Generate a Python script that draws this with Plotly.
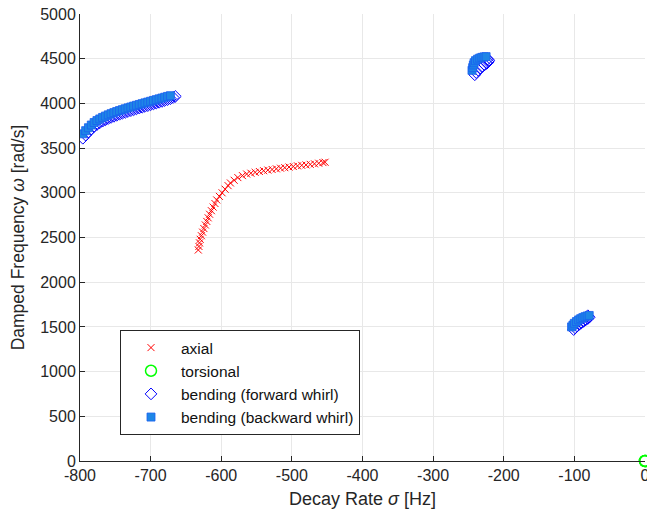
import plotly.graph_objects as go

# ---- data ----
axial_sigma = [-632.5, -631.6, -630.8, -629.8, -628.1, -626.4, -624.6, -622.5, -620.5, -618.5,
               -616.5, -614.0, -611.5, -608.9, -606.4, -602.6, -598.8, -594.5, -590.3, -587.0,
               -581.7, -576.5, -570.0, -564.0, -558.0, -552.0, -546.0, -540.0, -534.0, -528.0,
               -522.0, -516.0, -510.0, -504.0, -498.0, -492.0, -486.0, -480.0, -474.0, -468.0,
               -462.0, -456.0, -453.0]
axial_omega = [2360, 2400, 2440, 2480, 2520, 2560, 2600, 2640, 2680, 2720,
               2760, 2800, 2840, 2880, 2920, 2960, 3000, 3040, 3080, 3110,
               3140, 3170, 3192, 3210, 3219, 3229, 3238, 3247, 3254, 3261,
               3268, 3275, 3281, 3288, 3294, 3301, 3307, 3312, 3318, 3324,
               3331, 3338, 3342]

torsional_sigma = [0.0, 0.0, 0.0]
torsional_omega = [0, 0, 0]

forward_sigma = [-796, -792, -788, -784, -780, -776, -772, -768, -764, -760,
                 -756, -752, -748, -744, -740, -736, -732, -728, -724, -720,
                 -716, -712, -708, -704, -700, -696, -692, -688, -684, -680,
                 -676, -672, -668, -665,
                 -241, -239, -236, -233, -230, -227, -224, -222, -221, -223,
                 -101, -99, -96, -93, -90, -87, -84, -81, -79, -81]
forward_omega = [3610, 3645, 3680, 3712, 3742, 3764, 3783, 3801, 3816, 3830,
                 3843, 3855, 3867, 3878, 3889, 3899, 3909, 3919, 3929, 3939,
                 3948, 3957, 3966, 3975, 3985, 3994, 4003, 4012, 4022, 4032,
                 4042, 4053, 4066, 4078,
                 4320, 4345, 4370, 4395, 4415, 4432, 4448, 4465, 4482, 4495,
                 1470, 1490, 1510, 1528, 1545, 1562, 1578, 1594, 1608, 1625]

backward_sigma = [-796, -792, -788, -784, -780, -776, -772, -768, -764, -760,
                  -756, -752, -748, -744, -740, -736, -732, -728, -724, -720,
                  -716, -712, -708, -704, -700, -696, -692, -688, -684, -680,
                  -676, -672,
                  -245, -244, -243, -242, -240, -237, -234, -231, -228, -225,
                  -104, -102, -100, -97, -94, -91, -88, -85, -82, -79]
backward_omega = [3660, 3695, 3728, 3758, 3786, 3808, 3826, 3843, 3858, 3872,
                  3885, 3897, 3909, 3920, 3930, 3940, 3950, 3960, 3970, 3979,
                  3988, 3997, 4006, 4015, 4024, 4033, 4042, 4051, 4060, 4069,
                  4078, 4086,
                  4370, 4400, 4430, 4455, 4478, 4495, 4507, 4515, 4520, 4523,
                  1500, 1520, 1540, 1560, 1578, 1592, 1604, 1614, 1622, 1628]

x_ticks = [-800, -700, -600, -500, -400, -300, -200, -100, 0]
y_ticks = [0, 500, 1000, 1500, 2000, 2500, 3000, 3500, 4000, 4500, 5000]

FONT = "Liberation Sans, Arial, Helvetica, sans-serif"

fig = go.Figure()
fig.add_trace(go.Scatter(
    x=axial_sigma, y=axial_omega, mode="markers", name="axial",
    marker=dict(symbol="x-thin-open", size=7, color="red", line=dict(color="red", width=1))))
fig.add_trace(go.Scatter(
    x=torsional_sigma, y=torsional_omega, mode="markers", name="torsional",
    cliponaxis=False,
    marker=dict(symbol="circle-open", size=11, color="#00ff00", line=dict(color="#00ff00", width=1.5))))
fig.add_trace(go.Scatter(
    x=forward_sigma, y=forward_omega, mode="markers", name="bending (forward whirl)",
    marker=dict(symbol="diamond-open", size=9, color="#0000ff", line=dict(color="#0000ff", width=1))))
fig.add_trace(go.Scatter(
    x=backward_sigma, y=backward_omega, mode="markers", name="bending (backward whirl)",
    marker=dict(symbol="square", size=8, color="#1e86e6", line=dict(color="#1a5ff0", width=0.8))))

axis_common = dict(
    showgrid=True, gridcolor="#e8e8e8", gridwidth=1,
    zeroline=False, showline=True, linecolor="#262626", linewidth=1,
    ticks="inside", ticklen=5, tickcolor="#262626", tickwidth=1,
    tickfont=dict(family=FONT, size=16, color="#262626"),
    ticklabeloverflow="allow",
    mirror=False,
)

fig.update_layout(
    width=647, height=519,
    margin=dict(l=80, r=2, t=14, b=58),
    paper_bgcolor="white", plot_bgcolor="white",
    font=dict(family=FONT, color="#262626"),
    xaxis=dict(range=[-800, 0], tickvals=x_ticks, ticktext=[str(v) for v in x_ticks],
               automargin="bottom",
               title=dict(text="Decay Rate <i>σ</i> [Hz]", font=dict(family=FONT, size=18), standoff=9),
               **axis_common),
    yaxis=dict(range=[0, 5000], tickvals=y_ticks, ticktext=[str(v) for v in y_ticks],
               automargin="left",
               title=dict(text="Damped Frequency <i>ω</i> [rad/s]", font=dict(family=FONT, size=17.5), standoff=11),
               **axis_common),
    legend=dict(x=0.0708, y=0.293, xanchor="left", yanchor="top",
                bgcolor="white", bordercolor="#262626", borderwidth=1,
                font=dict(family=FONT, size=15.5, color="#111111"),
                itemwidth=50, tracegroupgap=0),
    showlegend=True,
)

fig.write_html("out.html")
